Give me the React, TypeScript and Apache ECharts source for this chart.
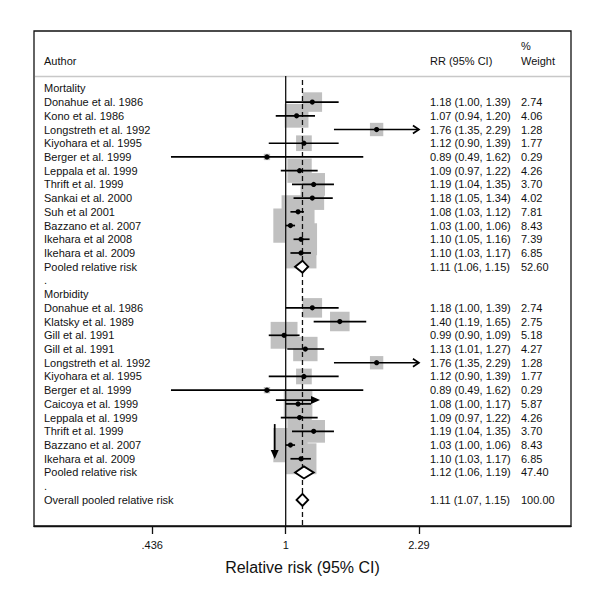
import React, { useEffect, useRef } from "react";
import * as echarts from "echarts";

// ---------- data ----------
const mortalityAuthors = [
  "Donahue et al. 1986",
  "Kono et al. 1986",
  "Longstreth et al. 1992",
  "Kiyohara et al. 1995",
  "Berger et al. 1999",
  "Leppala et al. 1999",
  "Thrift et al. 1999",
  "Sankai et al. 2000",
  "Suh et al 2001",
  "Bazzano et al. 2007",
  "Ikehara et al 2008",
  "Ikehara et al. 2009",
];
const mortalityRR = [1.18, 1.07, 1.76, 1.12, 0.89, 1.09, 1.19, 1.18, 1.08, 1.03, 1.1, 1.1];
const mortalityLo = [1.0, 0.94, 1.35, 0.9, 0.49, 0.97, 1.04, 1.05, 1.03, 1.0, 1.05, 1.03];
const mortalityHi = [1.39, 1.2, 2.29, 1.39, 1.62, 1.22, 1.35, 1.34, 1.12, 1.06, 1.16, 1.17];
const mortalityWeight = [2.74, 4.06, 1.28, 1.77, 0.29, 4.26, 3.7, 4.02, 7.81, 8.43, 7.39, 6.85];
const mortalityPooled = [1.11, 1.06, 1.15, 52.6]; // rr, lo, hi, weight

const morbidityAuthors = [
  "Donahue et al. 1986",
  "Klatsky et al. 1989",
  "Gill et al. 1991",
  "Gill et al. 1991",
  "Longstreth et al. 1992",
  "Kiyohara et al. 1995",
  "Berger et al. 1999",
  "Caicoya et al. 1999",
  "Leppala et al. 1999",
  "Thrift et al. 1999",
  "Bazzano et al. 2007",
  "Ikehara et al. 2009",
];
const morbidityRR = [1.18, 1.4, 0.99, 1.13, 1.76, 1.12, 0.89, 1.08, 1.09, 1.19, 1.03, 1.1];
const morbidityLo = [1.0, 1.19, 0.9, 1.01, 1.35, 0.9, 0.49, 1.0, 0.97, 1.04, 1.0, 1.03];
const morbidityHi = [1.39, 1.65, 1.09, 1.27, 2.29, 1.39, 1.62, 1.17, 1.22, 1.35, 1.06, 1.17];
const morbidityWeight = [2.74, 2.75, 5.18, 4.27, 1.28, 1.77, 0.29, 5.87, 4.26, 3.7, 8.43, 6.85];
const morbidityPooled = [1.12, 1.06, 1.19, 47.4];

const overallPooled = [1.11, 1.07, 1.15, 100.0];

const tickValues = [0.436, 1, 2.29];
const tickLabels = [".436", "1", "2.29"];
const nullValue = 1;

// stray arrows present in the original picture: [fromRR, fromRow, toRR, toRow]
const strayArrows = [
  [0.941, 22.72, 1.238, 22.72],
  [0.934, 24.47, 0.934, 27.02],
];

// ---------- row table ----------
type Row = {
  kind: "group" | "study" | "pooled" | "blank" | "overall";
  label: string;
  rr?: number;
  lo?: number;
  hi?: number;
  w?: number;
};

function buildRows(): Row[] {
  const rows: Row[] = [];
  rows.push({ kind: "group", label: "Mortality" });
  mortalityAuthors.forEach((a, i) =>
    rows.push({ kind: "study", label: a, rr: mortalityRR[i], lo: mortalityLo[i], hi: mortalityHi[i], w: mortalityWeight[i] })
  );
  rows.push({ kind: "pooled", label: "Pooled relative risk", rr: mortalityPooled[0], lo: mortalityPooled[1], hi: mortalityPooled[2], w: mortalityPooled[3] });
  rows.push({ kind: "blank", label: "." });
  rows.push({ kind: "group", label: "Morbidity" });
  morbidityAuthors.forEach((a, i) =>
    rows.push({ kind: "study", label: a, rr: morbidityRR[i], lo: morbidityLo[i], hi: morbidityHi[i], w: morbidityWeight[i] })
  );
  rows.push({ kind: "pooled", label: "Pooled relative risk", rr: morbidityPooled[0], lo: morbidityPooled[1], hi: morbidityPooled[2], w: morbidityPooled[3] });
  rows.push({ kind: "blank", label: "." });
  rows.push({ kind: "overall", label: "Overall pooled relative risk", rr: overallPooled[0], lo: overallPooled[1], hi: overallPooled[2], w: overallPooled[3] });
  return rows;
}

const FONT = "'Liberation Sans', Arial, Helvetica, sans-serif";
const TEXT_COLOR = "#111";
const SQ_K = 11.8;
const ln = Math.log;

export default function App() {
  const ref = useRef<HTMLDivElement>(null);

  useEffect(() => {
    if (!ref.current) return;
    const chart = echarts.init(ref.current, undefined, { renderer: "svg" });
    const rows = buildRows();
    const axisMaxTick = Math.max(...tickValues);

    const squareData: number[][] = [];
    const ciData: number[][] = [];
    const diamondData: number[][] = [];
    rows.forEach((r, i) => {
      if (r.kind === "study") {
        squareData.push([ln(r.rr!), i, r.w!]);
        ciData.push([ln(r.lo!), ln(r.hi!), ln(r.rr!), i, r.hi! >= axisMaxTick ? 1 : 0]);
      } else if (r.kind === "pooled" || r.kind === "overall") {
        diamondData.push([ln(r.lo!), ln(r.hi!), ln(r.rr!), i]);
      }
    });
    const labelData = rows.map((_, i) => [0, i]);
    const refLineData = [
      [ln(nullValue), 0],
      [ln(overallPooled[0]), 1],
    ];
    const strayData = strayArrows.map((a) => [ln(a[0]), a[1], ln(a[2]), a[3]]);

    const txt = (text: string, x: number, y: number) => ({
      type: "text",
      x,
      y,
      style: {
        text,
        fill: TEXT_COLOR,
        font: `11px ${FONT}`,
        align: "left",
        verticalAlign: "middle",
        textAlign: "left",
        textVerticalAlign: "middle",
      },
    });

    const option: any = {
      animation: false,
      grid: { left: 34, right: 29, top: 76, bottom: 74, containLabel: false },
      xAxis: {
        type: "value",
        min: -1.565,
        max: 1.774,
        name: "Relative risk (95% CI)",
        nameLocation: "middle",
        nameGap: 33,
        nameTextStyle: { fontFamily: FONT, fontSize: 16, color: "#111" },
        axisLine: { show: true, onZero: false, lineStyle: { color: "#111", width: 1.3 } },
        axisTick: {
          show: true,
          length: 8,
          inside: false,
          customValues: tickValues.map((v) => ln(v)),
          lineStyle: { color: "#111", width: 1.3 },
        },
        axisLabel: {
          show: true,
          margin: 13,
          fontFamily: FONT,
          fontSize: 11,
          color: "#111",
          customValues: tickValues.map((v) => ln(v)),
          formatter: (v: number) => {
            let best = 0;
            tickValues.forEach((t, i) => {
              if (Math.abs(ln(t) - v) < Math.abs(ln(tickValues[best]) - v)) best = i;
            });
            return tickLabels[best];
          },
        },
        splitLine: { show: false },
      },
      yAxis: {
        type: "value",
        inverse: true,
        min: -0.9,
        max: 31.9,
        show: false,
      },
      graphic: [
        {
          type: "rect",
          shape: { x: 34, y: 31, width: 537, height: 495 },
          style: { fill: "none", stroke: "#111", lineWidth: 1.3 },
          z: 0,
        },
        {
          type: "line",
          shape: { x1: 35, y1: 76.5, x2: 570, y2: 76.5 },
          style: { stroke: "#c8c8c8", lineWidth: 1.6 },
        },
        { ...txt("Author", 44, 61) },
        { ...txt("RR (95% CI)", 430, 61) },
        { ...txt("%", 521, 46) },
        { ...txt("Weight", 521, 61) },
      ],
      series: [
        {
          type: "custom",
          name: "squares",
          z: 1,
          clip: false,
          encode: { x: 0, y: 1 },
          data: squareData,
          renderItem: (params: any, api: any) => {
            const c = api.coord([api.value(0), api.value(1)]);
            const s = SQ_K * Math.sqrt(api.value(2));
            return {
              type: "rect",
              shape: { x: c[0] - s / 2, y: c[1] - s / 2, width: s, height: s },
              style: { fill: "#c0c0c0" },
            };
          },
        },
        {
          type: "custom",
          name: "reference",
          z: 2,
          clip: false,
          encode: { x: 0, y: 1 },
          data: refLineData,
          renderItem: (params: any, api: any) => {
            const cs = params.coordSys;
            const x = api.coord([api.value(0), 0])[0];
            const dashed = api.value(1) === 1;
            return {
              type: "line",
              shape: { x1: x, y1: dashed ? cs.y + 4 : cs.y, x2: x, y2: cs.y + cs.height },
              style: { stroke: "#111", lineWidth: 1.3, lineDash: dashed ? [5, 3] : null },
            };
          },
        },
        {
          type: "custom",
          name: "ci",
          z: 3,
          clip: false,
          encode: { x: [0, 1, 2], y: 3 },
          data: ciData,
          renderItem: (params: any, api: any) => {
            const row = api.value(3);
            const p1 = api.coord([api.value(0), row]);
            const p2 = api.coord([api.value(1), row]);
            const pc = api.coord([api.value(2), row]);
            const children: any[] = [
              {
                type: "line",
                shape: { x1: p1[0], y1: p1[1], x2: p2[0], y2: p2[1] },
                style: { stroke: "#000", lineWidth: 1.7 },
              },
              {
                type: "circle",
                shape: { cx: pc[0], cy: pc[1], r: 2.6 },
                style: { fill: "#000" },
              },
            ];
            if (api.value(4) === 1) {
              children.push({
                type: "polyline",
                shape: {
                  points: [
                    [p2[0] - 6, p2[1] - 4],
                    [p2[0], p2[1]],
                    [p2[0] - 6, p2[1] + 4],
                  ],
                },
                style: { stroke: "#000", lineWidth: 1.7, fill: "none" },
              });
            }
            return { type: "group", children };
          },
        },
        {
          type: "custom",
          name: "diamonds",
          z: 4,
          clip: false,
          encode: { x: [0, 1, 2], y: 3 },
          data: diamondData,
          renderItem: (params: any, api: any) => {
            const row = api.value(3);
            const pl = api.coord([api.value(0), row]);
            const ph = api.coord([api.value(1), row]);
            const pc = api.coord([api.value(2), row]);
            return {
              type: "polygon",
              shape: {
                points: [
                  [pl[0], pl[1]],
                  [pc[0], pc[1] - 6],
                  [ph[0], ph[1]],
                  [pc[0], pc[1] + 6],
                ],
              },
              style: { fill: "#fff", stroke: "#000", lineWidth: 1.9 },
            };
          },
        },
        {
          type: "custom",
          name: "stray",
          z: 5,
          clip: false,
          encode: { x: [0, 2], y: [1, 3] },
          data: strayData,
          renderItem: (params: any, api: any) => {
            const a = api.coord([api.value(0), api.value(1)]);
            const b = api.coord([api.value(2), api.value(3)]);
            const dx = b[0] - a[0];
            const dy = b[1] - a[1];
            const len = Math.sqrt(dx * dx + dy * dy) || 1;
            const ux = dx / len;
            const uy = dy / len;
            const hl = 9;
            const hw = 4;
            const bx = b[0] - ux * hl;
            const by = b[1] - uy * hl;
            return {
              type: "group",
              children: [
                {
                  type: "line",
                  shape: { x1: a[0], y1: a[1], x2: bx, y2: by },
                  style: { stroke: "#000", lineWidth: 1.7 },
                },
                {
                  type: "polygon",
                  shape: {
                    points: [
                      [b[0], b[1]],
                      [bx - uy * hw, by + ux * hw],
                      [bx + uy * hw, by - ux * hw],
                    ],
                  },
                  style: { fill: "#000" },
                },
              ],
            };
          },
        },
        {
          type: "custom",
          name: "labels",
          z: 6,
          clip: false,
          encode: { x: 0, y: 1 },
          data: labelData,
          renderItem: (params: any, api: any) => {
            const r = rows[params.dataIndex];
            const y = api.coord([0, api.value(1)])[1];
            const children: any[] = [txt(r.label, 44, y)];
            if (r.rr !== undefined) {
              children.push(
                txt(`${r.rr.toFixed(2)} (${r.lo!.toFixed(2)}, ${r.hi!.toFixed(2)})`, 430, y)
              );
              children.push(txt(r.w!.toFixed(2), 521, y));
            }
            return { type: "group", children };
          },
        },
      ],
    };

    chart.setOption(option);
    return () => chart.dispose();
  }, []);

  return (
    <div
      ref={ref}
      style={{ position: "absolute", left: 0, top: 0, width: 600, height: 600, background: "#fff" }}
    />
  );
}
